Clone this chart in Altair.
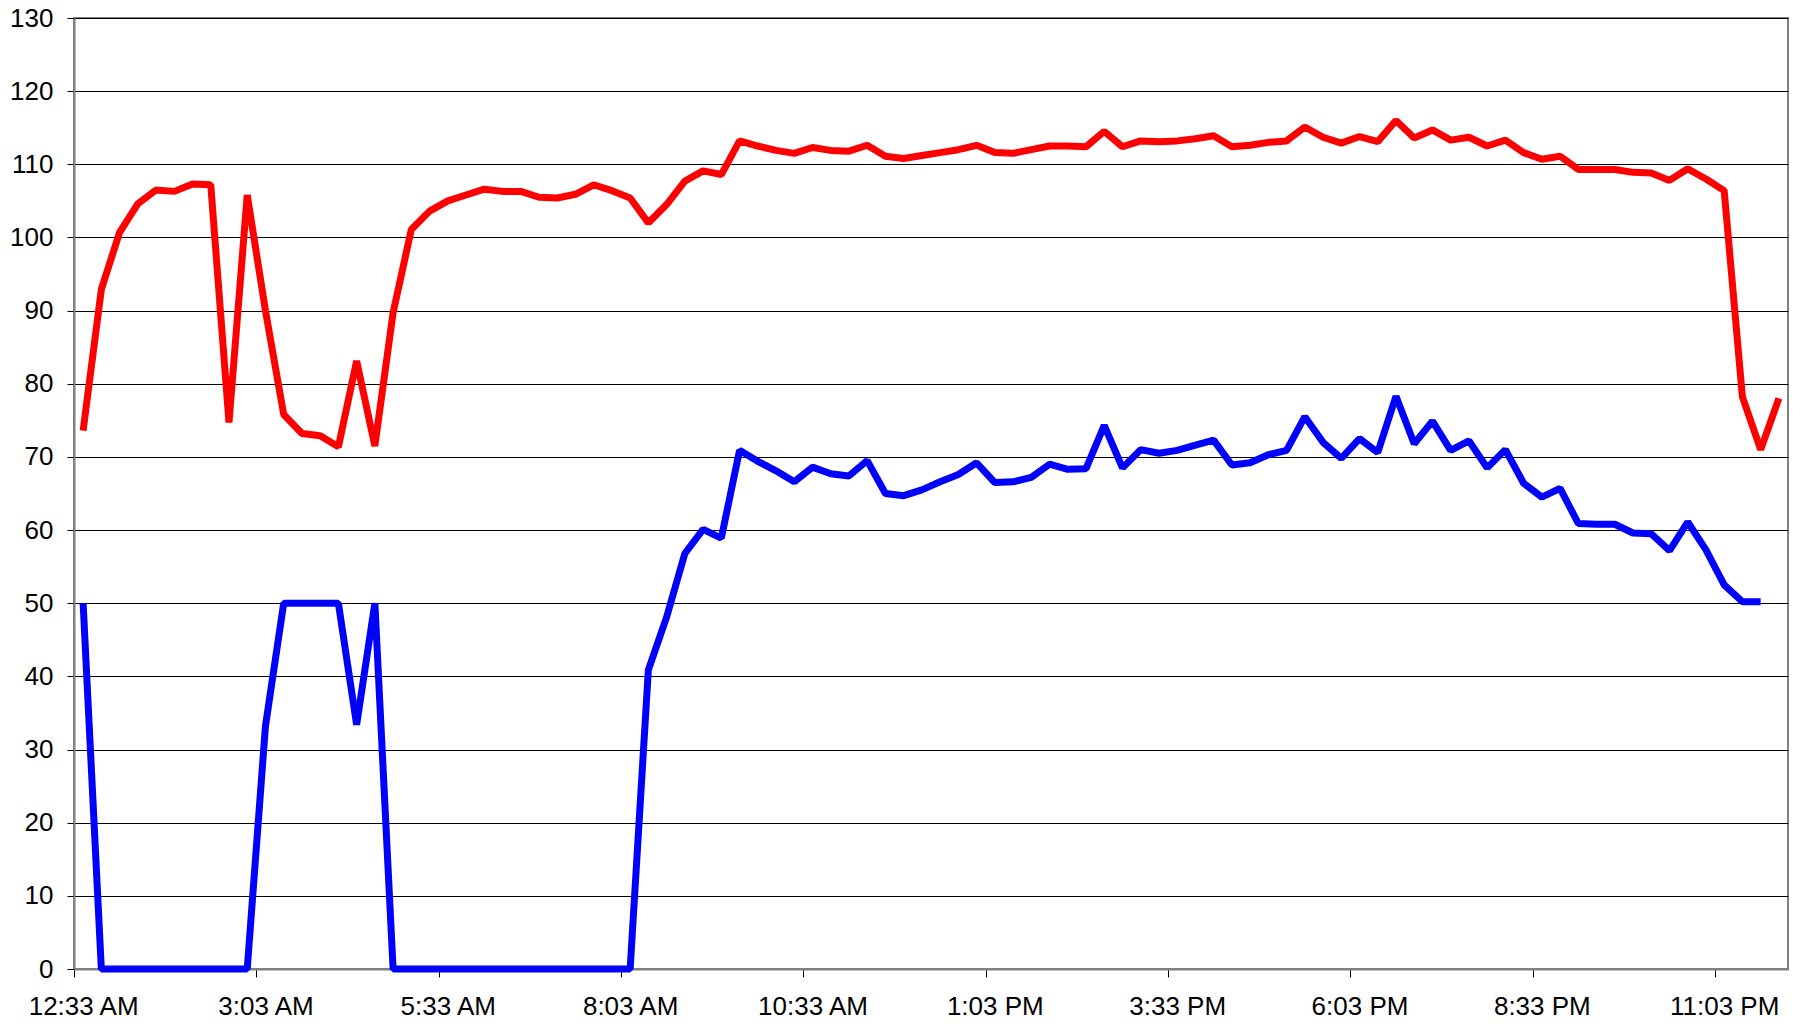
import altair as alt
import pandas as pd

tick_labels = ["12:33 AM", "3:03 AM", "5:33 AM", "8:03 AM", "10:33 AM",
               "1:03 PM", "3:33 PM", "6:03 PM", "8:33 PM", "11:03 PM"]

red_values = [
    73.6, 92.9, 100.7, 104.6, 106.5, 106.3, 107.3, 107.2, 74.7, 105.8,
    90.0, 75.8, 73.2, 72.9, 71.4, 83.1, 71.5, 89.7, 101.1, 103.6,
    105.0, 105.8, 106.6, 106.3, 106.3, 105.5, 105.4, 105.9, 107.2, 106.4,
    105.4, 102.0, 104.5, 107.7, 109.1, 108.6, 113.2, 112.5, 111.9, 111.5,
    112.3, 111.9, 111.8, 112.6, 111.1, 110.8, 111.2, 111.6, 112.0, 112.6,
    111.6, 111.5, 112.0, 112.5, 112.5, 112.4, 114.5, 112.4, 113.2, 113.1,
    113.2, 113.5, 113.9, 112.4, 112.6, 113.0, 113.2, 115.1, 113.7, 112.9,
    113.8, 113.1, 116.0, 113.6, 114.7, 113.3, 113.7, 112.5, 113.3, 111.6,
    110.7, 111.1, 109.3, 109.3, 109.3, 108.9, 108.8, 107.8, 109.4, 108.0,
    106.4, 78.2, 71.0, 78.0,
]

blue_values = [
    50.0, 0, 0, 0, 0, 0, 0, 0, 0, 0,
    33.2, 50.0, 50.0, 50.0, 50.0, 33.4, 50.0, 0, 0, 0,
    0, 0, 0, 0, 0, 0, 0, 0, 0, 0,
    0, 40.9, 48.1, 56.8, 60.1, 58.9, 70.9, 69.4, 68.1, 66.6,
    68.6, 67.7, 67.4, 69.5, 65.0, 64.7, 65.5, 66.6, 67.6, 69.2,
    66.5, 66.6, 67.2, 69.0, 68.3, 68.4, 74.3, 68.5, 71.0, 70.5,
    70.9, 71.6, 72.3, 68.9, 69.2, 70.3, 70.9, 75.5, 72.0, 69.8,
    72.5, 70.6, 78.3, 71.8, 74.9, 70.9, 72.2, 68.5, 71.0, 66.4,
    64.5, 65.7, 60.9, 60.8, 60.8, 59.6, 59.5, 57.2, 61.1, 57.3,
    52.5, 50.2, 50.2,
]

n_slots = len(red_values)
W, H = 1714, 951

rows = []
for i, v in enumerate(red_values):
    rows.append({"slot": i + 0.5, "value": v, "series": "red"})
for i, v in enumerate(blue_values):
    rows.append({"slot": i + 0.5, "value": v, "series": "blue"})
df = pd.DataFrame(rows)

label_expr = "[" + ",".join(f"'{t}'" for t in tick_labels) + "][round(datum.value / 10)]"

chart = alt.Chart(df).mark_line(strokeWidth=7, strokeJoin="bevel", strokeCap="butt").encode(
    x=alt.X("slot:Q",
            scale=alt.Scale(domain=[0, n_slots], nice=False, zero=False),
            axis=alt.Axis(values=list(range(0, 91, 10)), labelExpr=label_expr,
                          labelOffset=W / n_slots / 2, grid=False, tickSize=8,
                          labelPadding=16, labelFontSize=26, title=None,
                          labelFlush=False, labelOverlap=False)),
    y=alt.Y("value:Q",
            scale=alt.Scale(domain=[0, 130], nice=False),
            axis=alt.Axis(values=list(range(0, 131, 10)), tickSize=7, labelPadding=14,
                          labelFontSize=26, grid=True, title=None)),
    color=alt.Color("series:N",
                    scale=alt.Scale(domain=["red", "blue"], range=["#FF0000", "#0000FF"]),
                    legend=None),
).properties(
    width=W, height=H,
    autosize=alt.AutoSizeParams(type="none"),
    padding={"left": 66, "top": 10, "right": 8, "bottom": 55},
).configure_view(
    stroke="#808080", strokeWidth=2
).configure_axis(
    labelFont="Liberation Sans", labelColor="black",
    domainColor="#808080", domainWidth=2,
    tickColor="black", tickWidth=1,
    gridColor="black", gridWidth=1, gridOpacity=1,
)

chart.save("out.html", embed_options={"renderer": "svg", "actions": False})
